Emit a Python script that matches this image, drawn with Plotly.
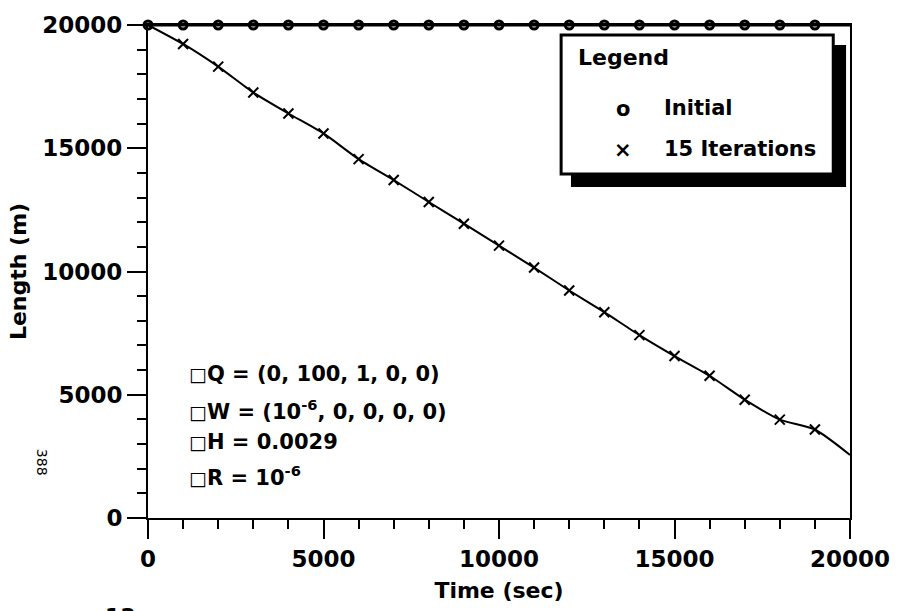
import plotly.graph_objects as go

# ---- data ----
initial_time = [0, 1000, 2000, 3000, 4000, 5000, 6000, 7000, 8000, 9000, 10000,
                11000, 12000, 13000, 14000, 15000, 16000, 17000, 18000, 19000]
initial_length = [20000] * len(initial_time)

iter_time = [0, 1000, 2000, 3000, 4000, 5000, 6000, 7000, 8000, 9000, 10000,
             11000, 12000, 13000, 14000, 15000, 16000, 17000, 18000, 19000, 20000]
iter_length = [20000, 19230, 18310, 17260, 16410, 15600, 14560, 13710, 12820, 11940,
               11050, 10160, 9230, 8350, 7420, 6570, 5770, 4800, 3990, 3590, 2560]

x_ticks = [0, 5000, 10000, 15000, 20000]
y_ticks = [0, 5000, 10000, 15000, 20000]

BOX = '<span style="font-size:19px">□</span>'
param_lines = [
    BOX + "Q = (0, 100, 1, 0, 0)",
    BOX + "W = (10<sup>-6</sup>, 0, 0, 0, 0)",
    BOX + "H = 0.0029",
    BOX + "R = 10<sup>-6</sup>",
]
legend_title = "Legend"
legend_names = ["Initial", "15 Iterations"]
legend_symbols = ["o", "×"]

FONT = "DejaVu Sans"
BOLD = dict(family=FONT, color="black", weight="bold")

fig = go.Figure()

# Initial: line across the top plus open circle markers
fig.add_trace(go.Scatter(
    x=initial_time + [20000], y=initial_length + [20000], mode="lines",
    line=dict(color="black", width=3), showlegend=False, hoverinfo="skip"))
fig.add_trace(go.Scatter(
    x=initial_time, y=initial_length, mode="markers",
    marker=dict(symbol="circle-open", size=8, color="black", line=dict(width=3)),
    showlegend=False, cliponaxis=False))

# 15 iterations: smooth line with x markers
fig.add_trace(go.Scatter(
    x=iter_time, y=iter_length, mode="lines",
    line=dict(color="black", width=2, shape="spline", smoothing=0.6),
    showlegend=False))
fig.add_trace(go.Scatter(
    x=iter_time[1:-1], y=iter_length[1:-1], mode="markers",
    marker=dict(symbol="x-thin", size=10, color="black", line=dict(width=2, color="black")),
    showlegend=False))

# ---- layout ----
L, R, T, B = 148, 42, 22, 93
W, H = 902, 611
pw, ph = W - L - R, H - T - B


def px(xp):
    return (xp - L) / pw


def py(yp):
    return (H - B - yp) / ph


axis_common = dict(
    showgrid=False, zeroline=False, showline=True, linecolor="black", linewidth=2,
    mirror=True, ticks="outside", ticklen=19, tickwidth=2, tickcolor="black",
    tickfont=dict(size=23, **BOLD),
    minor=dict(dtick=1000, ticks="outside", ticklen=9, tickwidth=2, tickcolor="black"),
)

fig.update_layout(
    width=W, height=H, margin=dict(l=L, r=R, t=T, b=B),
    paper_bgcolor="white", plot_bgcolor="white",
    xaxis=dict(range=[0, 20000], tickvals=x_ticks, ticktext=[str(v) for v in x_ticks],
               title=dict(text="Time (sec)", font=dict(size=22, **BOLD), standoff=12),
               **axis_common),
    yaxis=dict(range=[0, 20000], tickvals=y_ticks, ticktext=[str(v) for v in y_ticks],
               title=dict(text="Length (m)", font=dict(size=22, **BOLD), standoff=10),
               **axis_common),
)

# legend box with drop shadow
fig.add_shape(type="rect", xref="paper", yref="paper",
              x0=px(577), x1=px(856), y0=py(185), y1=py(42),
              fillcolor="black", line=dict(width=0), layer="above")
fig.add_shape(type="rect", xref="paper", yref="paper",
              x0=px(567), x1=px(843), y0=py(172), y1=py(32),
              fillcolor="white", line=dict(color="black", width=3), layer="above")

ann = []
ann.append(dict(text=legend_title, x=px(582), y=py(55), xanchor="left", yanchor="middle",
                font=dict(size=22, **BOLD)))
for sym, name, yy in zip(legend_symbols, legend_names, [106, 147]):
    ann.append(dict(text=sym, x=px(630), y=py(yy + 1), xanchor="center", yanchor="middle",
                    font=dict(size=21, **BOLD)))
    ann.append(dict(text=name, x=px(669), y=py(yy), xanchor="left", yanchor="middle",
                    font=dict(size=21, **BOLD)))

for line, yy in zip(param_lines, [373, 409, 442, 476]):
    ann.append(dict(text=line, x=px(188), y=py(yy), xanchor="left", yanchor="middle",
                    font=dict(size=21, **BOLD)))

ann.append(dict(text="388", x=px(40), y=py(462), xanchor="center", yanchor="middle",
                textangle=90, font=dict(size=14, family=FONT, color="black")))
ann.append(dict(text="13", x=px(102), y=py(603), xanchor="left", yanchor="top",
                font=dict(size=22, **BOLD)))

for a in ann:
    a.update(xref="paper", yref="paper", showarrow=False)
fig.update_layout(annotations=ann)

fig.write_html("out.html")
